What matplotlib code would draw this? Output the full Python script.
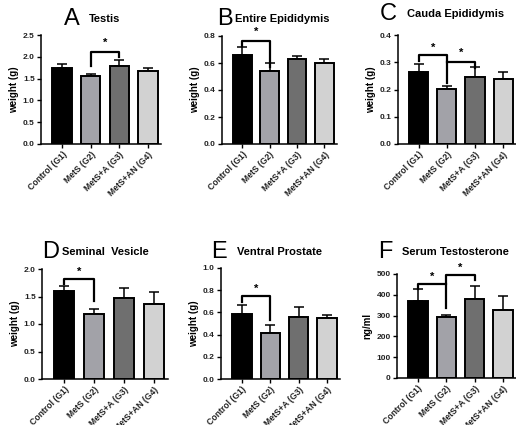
import matplotlib.pyplot as plt
import numpy as np

plt.rcParams['font.family'] = ['Liberation Sans', 'DejaVu Sans']

groups = ['Control (G1)', 'MetS (G2)', 'MetS+A (G3)', 'MetS+AN (G4)']
bar_colors = ['#000000', '#a2a2a8', '#6f6f6f', '#d2d2d2']

# panel data: mean and SEM per group
testis_mean = [1.74, 1.55, 1.80, 1.67]
testis_err = [0.10, 0.06, 0.13, 0.07]
epid_mean = [0.66, 0.543, 0.627, 0.598]
epid_err = [0.056, 0.055, 0.025, 0.029]
cauda_mean = [0.263, 0.202, 0.247, 0.239]
cauda_err = [0.029, 0.012, 0.037, 0.026]
sv_mean = [1.60, 1.19, 1.47, 1.37]
sv_err = [0.09, 0.09, 0.18, 0.22]
vp_mean = [0.585, 0.415, 0.56, 0.546]
vp_err = [0.085, 0.07, 0.085, 0.034]
testo_mean = [372, 292, 379, 329]
testo_err = [55, 12, 61, 63]

W, H = 516, 425
fig = plt.figure(figsize=(W / 100, H / 100), dpi=100)


def px_axes(l, r, t, b):
    return fig.add_axes([l / W, 1 - b / H, (r - l) / W, (b - t) / H])


def panel(ax, mean, err, ymax, ystep, ylabel):
    x = np.arange(len(groups))
    ax.bar(x, mean, 0.68, color=bar_colors, edgecolor='black', linewidth=1.4, zorder=2)
    ax.errorbar(x, mean, yerr=[np.zeros(4), err], fmt='none', ecolor='black',
                elinewidth=1.1, capsize=3.5, capthick=1.1, zorder=1)
    ax.set_xlim(-0.74, 3.46)
    ax.set_ylim(0, ymax)
    ax.set_yticks(np.arange(0, ymax + ystep / 2, ystep))
    ax.set_xticks(x)
    ax.set_xticklabels(groups, rotation=45, ha='right', rotation_mode='anchor',
                       fontsize=6.2, fontweight='bold', color='#222222')
    for lab in ax.get_yticklabels():
        lab.set_fontsize(6)
        lab.set_fontweight('bold')
        lab.set_color('#222222')
    ax.set_ylabel(ylabel, fontsize=7, fontweight='bold', labelpad=3)
    for s in ['top', 'right']:
        ax.spines[s].set_visible(False)
    for s in ['left', 'bottom']:
        ax.spines[s].set_linewidth(1.1)
    ax.tick_params(length=3, width=1, pad=1.5)


def bracket(ax, x1, x2, y, y1, y2, star_y):
    ax.plot([x1, x1, x2, x2], [y1, y, y, y2], color='black', lw=1.6, clip_on=False, zorder=3)
    ax.text((x1 + x2) / 2, star_y, '*', ha='center', va='center', fontsize=8,
            fontweight='bold', clip_on=False)


def title(xl, xt, y, letter, text):
    fig.text(xl / W, 1 - y / H, letter, fontsize=17, ha='center', va='center')
    fig.text(xt / W, 1 - y / H, text, fontsize=8, fontweight='bold', ha='left', va='center')


axA = px_axes(41, 161, 35, 144)
panel(axA, testis_mean, testis_err, 2.5, 0.5, 'weight (g)')
bracket(axA, 1, 2, 2.12, 1.78, 1.99, 2.32)
title(72, 89, 19, 'A', 'Testis')

axB = px_axes(222, 337, 36, 144)
panel(axB, epid_mean, epid_err, 0.8, 0.2, 'weight (g)')
bracket(axB, 0, 1, 0.765, 0.725, 0.57, 0.83)
title(225, 235, 19, 'B', 'Entire Epididymis')

axC = px_axes(398, 516, 35, 144)
panel(axC, cauda_mean, cauda_err, 0.4, 0.1, 'weight (g)')
bracket(axC, 0, 1, 0.327, 0.305, 0.223, 0.352)
bracket(axC, 1, 2, 0.302, 0.302, 0.28, 0.333)
title(388, 407, 14, 'C', 'Cauda Epididymis')

axD = px_axes(42, 168, 269, 379)
panel(axD, sv_mean, sv_err, 2.0, 0.5, 'weight (g)')
bracket(axD, 0, 1, 1.82, 1.72, 1.41, 1.95)
title(51, 62, 252, 'D', 'Seminal  Vesicle')

axE = px_axes(221, 340, 268, 379)
panel(axE, vp_mean, vp_err, 1.0, 0.2, 'weight (g)')
bracket(axE, 0, 1, 0.75, 0.69, 0.53, 0.81)
title(219, 237, 252, 'E', 'Ventral Prostate')

axF = px_axes(397, 516, 274, 378)
panel(axF, testo_mean, testo_err, 500, 100, 'ng/ml')
bracket(axF, 0, 1, 452, 428, 452, 488)
bracket(axF, 1, 2, 495, 338, 470, 528)
title(385, 402, 252, 'F', 'Serum Testosterone')

fig.savefig('out.png', dpi=100)
